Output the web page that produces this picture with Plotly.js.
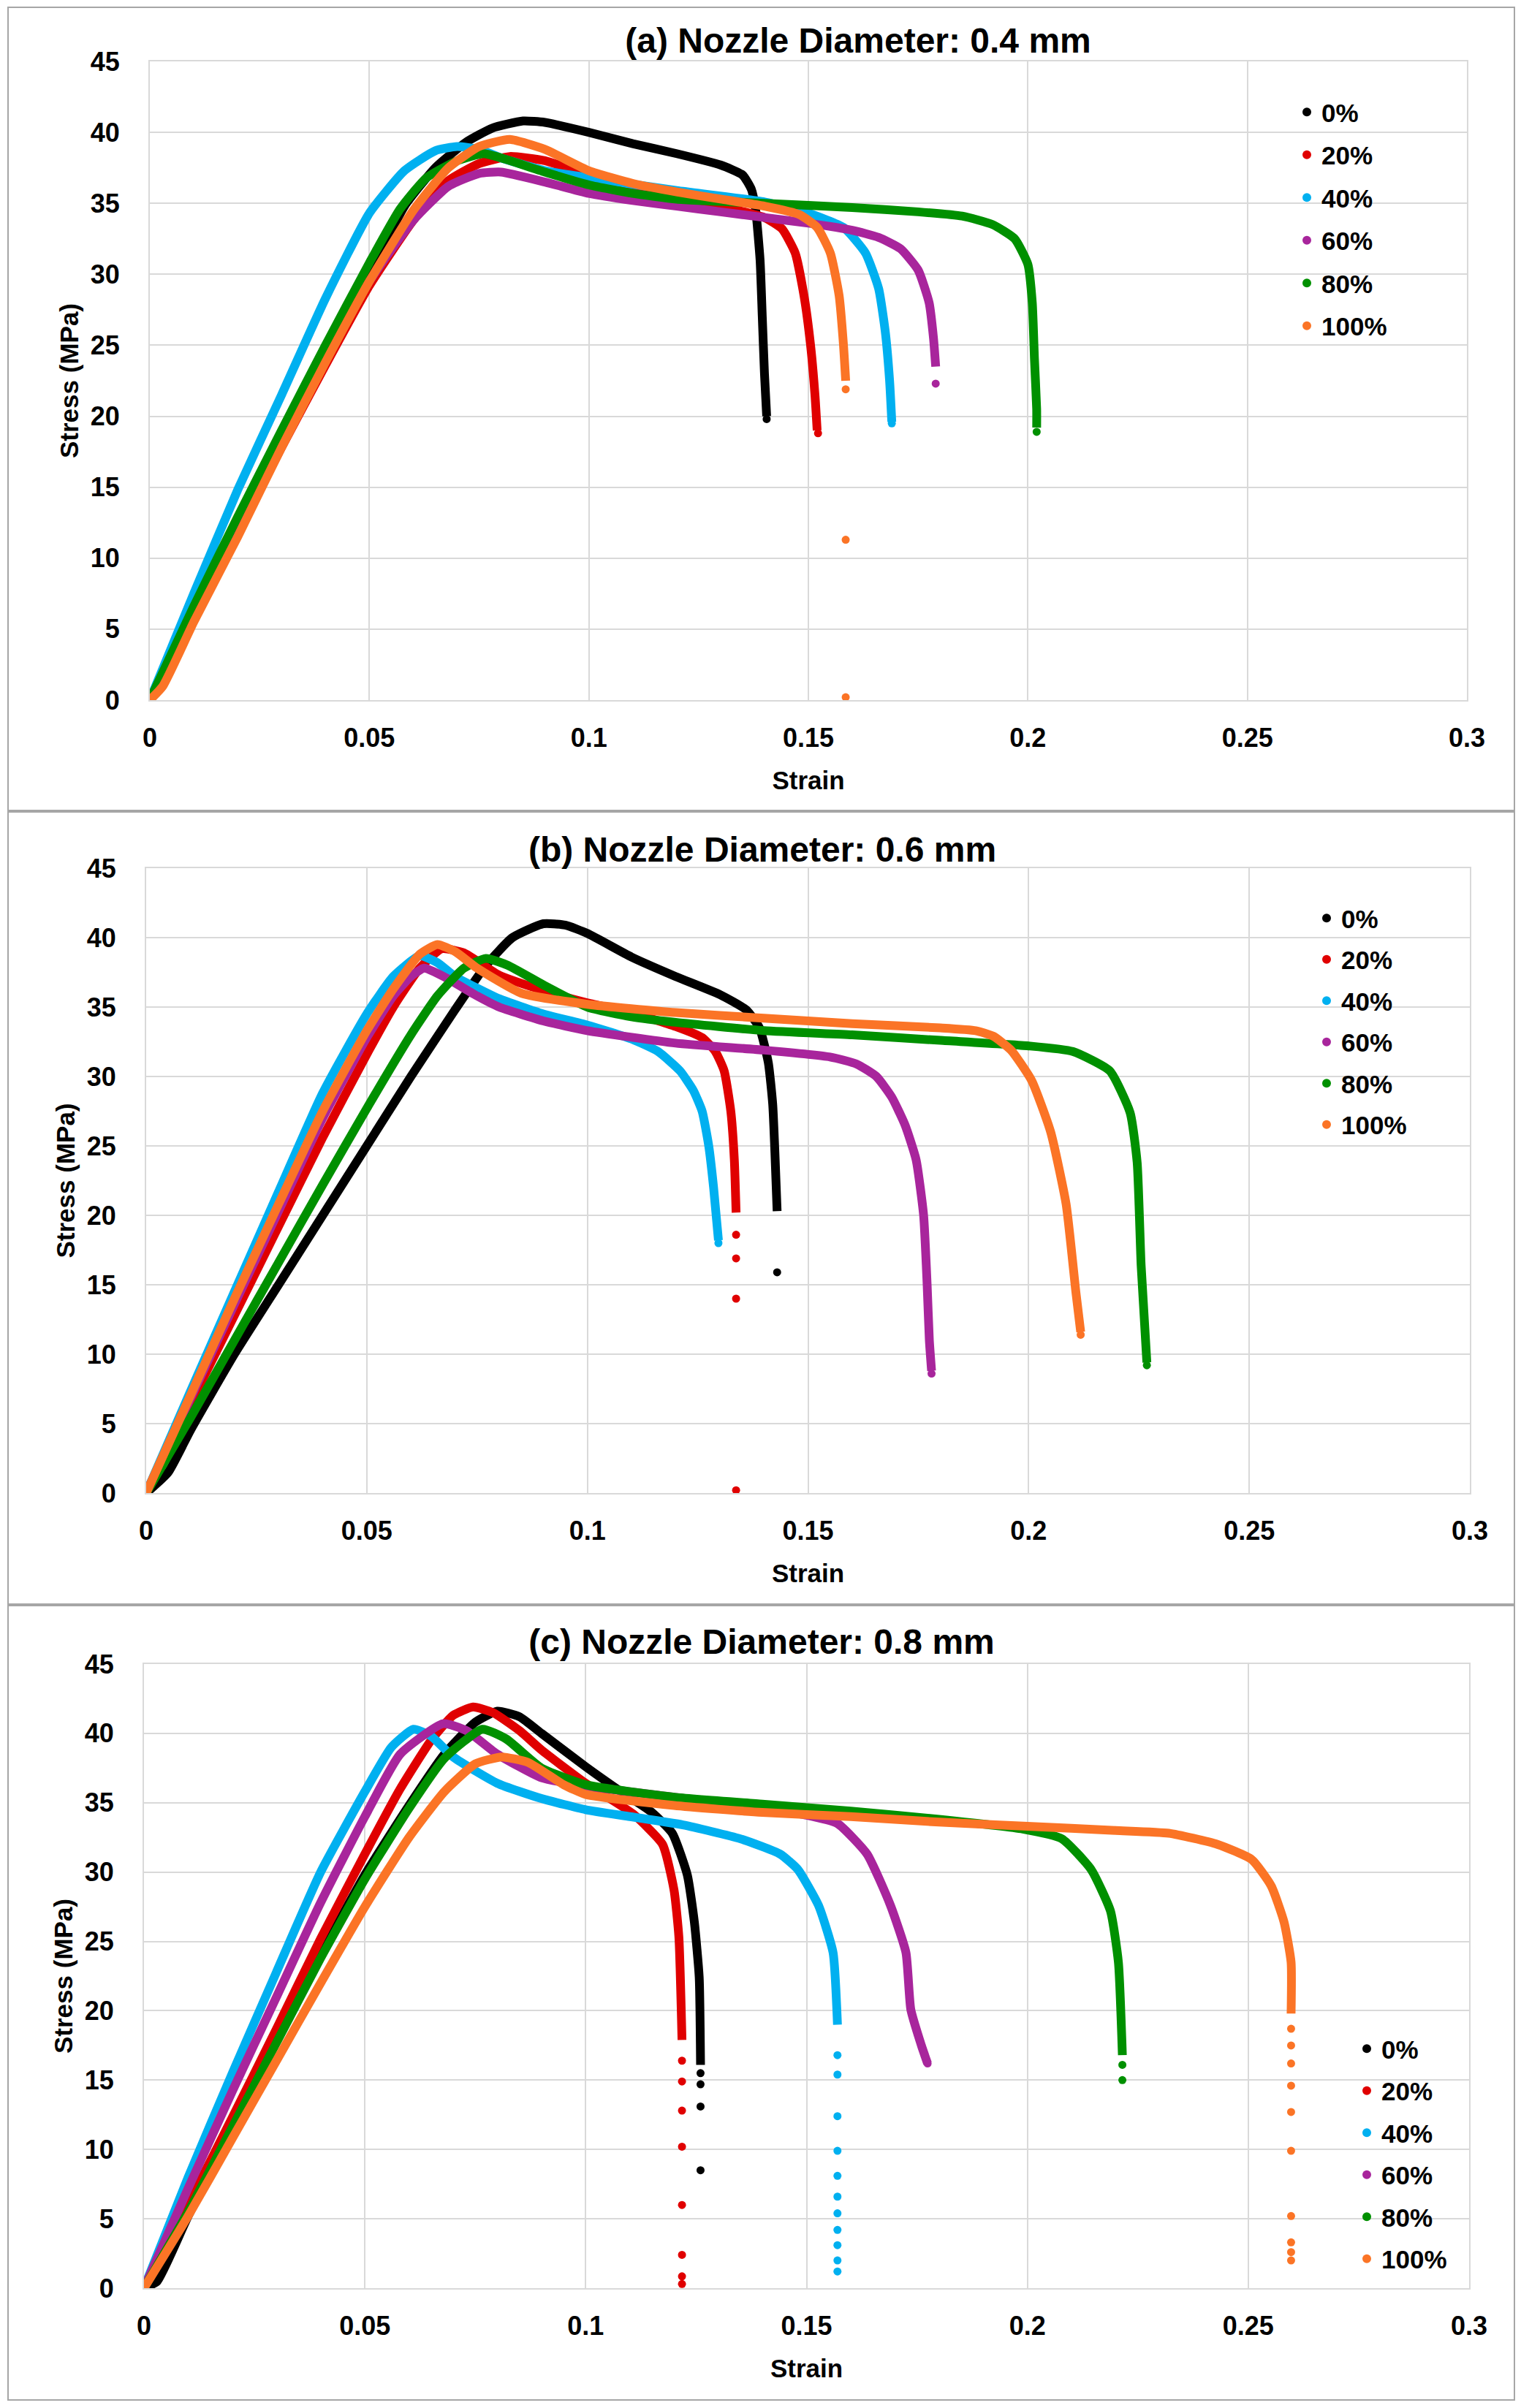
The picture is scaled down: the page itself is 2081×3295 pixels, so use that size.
<!DOCTYPE html>
<html>
<head>
<meta charset="utf-8">
<script src="https://cdn.plot.ly/plotly-3.0.1.min.js"></script>
<style>
html,body{margin:0;padding:0;background:#ffffff;}
.panel{position:absolute;left:0;width:2081px;}
</style>
</head>
<body>
<div id="pa" class="panel" style="top:0px;height:1110px"></div>
<div id="pb" class="panel" style="top:1110px;height:1086px"></div>
<div id="pc" class="panel" style="top:2196px;height:1099px"></div>
<script>
// ---------------- DATA ----------------
const seriesNames = ['0%', '20%', '40%', '60%', '80%', '100%'];
const xTickVals = [0, 0.05, 0.1, 0.15, 0.2, 0.25, 0.3];
const xTickText = ['0', '0.05', '0.1', '0.15', '0.2', '0.25', '0.3'];
const yTickVals = [0, 5, 10, 15, 20, 25, 30, 35, 40, 45];
const panelTitles = ['(a) Nozzle Diameter: 0.4 mm', '(b) Nozzle Diameter: 0.6 mm', '(c) Nozzle Diameter: 0.8 mm'];

// Panel (a) 0.4 mm : [strain, stress MPa]
const a_0 = [[0,0],[0.01,6.5],[0.02,12.5],[0.03,18.5],[0.04,24.3],[0.05,30],[0.058,34.8],[0.065,37.5],[0.072,39.3],[0.078,40.3],[0.085,40.8],[0.09,40.7],[0.1,40.0],[0.11,39.2],[0.12,38.5],[0.13,37.7],[0.135,37.0],[0.137,36.0],[0.138,34.5],[0.139,31],[0.1395,27],[0.140,23],[0.1405,20]];
const a_0_tail = [[0.1405,19.8]];
const a_20 = [[0,0],[0.01,5.8],[0.02,11.8],[0.03,17.8],[0.04,23.6],[0.05,29.2],[0.06,33.8],[0.068,36.6],[0.075,37.8],[0.082,38.3],[0.09,38.0],[0.1,37.0],[0.11,36.2],[0.12,35.5],[0.13,34.8],[0.14,34.0],[0.144,33.2],[0.147,31.5],[0.149,28.5],[0.1505,25],[0.1515,21.5],[0.152,19]];
const a_20_tail = [[0.1522,18.8]];
const a_40 = [[0,0],[0.01,7.5],[0.02,14.8],[0.03,21.5],[0.04,28.3],[0.05,34.3],[0.058,37.3],[0.065,38.7],[0.07,39.0],[0.075,38.8],[0.08,38.2],[0.09,37.3],[0.1,36.8],[0.12,35.9],[0.14,35.1],[0.15,34.3],[0.158,33.3],[0.163,31.5],[0.166,29],[0.1675,26],[0.1685,22.5],[0.169,19.6]];
const a_40_tail = [[0.169,19.5]];
const a_60 = [[0,0],[0.01,5.8],[0.02,11.8],[0.03,18],[0.04,24],[0.05,29.5],[0.06,33.8],[0.068,36.2],[0.075,37.1],[0.08,37.2],[0.09,36.5],[0.1,35.7],[0.11,35.2],[0.12,34.8],[0.13,34.4],[0.14,34.0],[0.15,33.6],[0.16,33.1],[0.166,32.6],[0.171,31.8],[0.175,30.3],[0.1775,28],[0.1785,25.5],[0.179,23.5]];
const a_60_tail = [[0.179,22.3]];
const a_80 = [[0,0],[0.01,6.6],[0.02,12.9],[0.03,19.0],[0.04,25.0],[0.05,30.8],[0.057,34.6],[0.063,36.8],[0.07,38.0],[0.076,38.5],[0.08,38.2],[0.09,37.2],[0.1,36.3],[0.11,35.7],[0.12,35.3],[0.14,35.0],[0.16,34.7],[0.175,34.4],[0.185,34.1],[0.192,33.5],[0.197,32.5],[0.2,30.7],[0.201,28],[0.2015,24],[0.202,20.5],[0.202,19.2]];
const a_80_tail = [[0.202,18.9]];
const a_100 = [[0,0],[0.003,1],[0.01,5.5],[0.02,11.5],[0.03,17.8],[0.04,23.8],[0.05,29.5],[0.06,34.5],[0.068,37.5],[0.075,39.0],[0.082,39.5],[0.09,38.8],[0.1,37.3],[0.11,36.4],[0.12,35.8],[0.13,35.3],[0.14,34.8],[0.148,34.2],[0.152,33.3],[0.155,31.5],[0.157,28.5],[0.158,25],[0.1585,22.5]];
const a_100_tail = [[0.1585,21.9],[0.1585,11.3],[0.1585,0.2]];

// Panel (b) 0.6 mm
const b_0 = [[0,0],[0.005,1.5],[0.01,4.5],[0.02,10],[0.03,15],[0.04,20],[0.05,25],[0.06,30],[0.07,34.8],[0.077,38],[0.083,40],[0.09,41],[0.095,40.9],[0.1,40.3],[0.11,38.6],[0.12,37.2],[0.13,35.9],[0.136,34.8],[0.139,33.5],[0.141,31],[0.142,28],[0.1425,24.5],[0.143,20.3]];
const b_0_tail = [[0.143,15.9]];
const b_20 = [[0,0],[0.01,6.4],[0.02,12.8],[0.03,19.2],[0.04,25.6],[0.05,31.6],[0.056,35],[0.062,37.8],[0.067,39.2],[0.072,38.9],[0.08,37.3],[0.09,36.2],[0.1,35.3],[0.11,34.6],[0.12,33.6],[0.126,32.8],[0.129,31.8],[0.131,30.4],[0.1325,27.5],[0.1333,24],[0.1337,20.2]];
const b_20_tail = [[0.1337,18.6],[0.1337,16.9],[0.1337,14.0],[0.1337,0.2]];
const b_40 = [[0,0],[0.01,7.3],[0.02,14.5],[0.03,21.7],[0.04,28.8],[0.05,34.5],[0.056,37.2],[0.062,38.7],[0.066,38.2],[0.07,37.2],[0.08,35.6],[0.09,34.5],[0.1,33.7],[0.11,32.7],[0.116,31.8],[0.121,30.4],[0.124,29],[0.126,27.5],[0.1275,25],[0.1286,22],[0.1297,18.2]];
const b_40_tail = [[0.1297,18.0]];
const b_60 = [[0,0],[0.01,6.8],[0.02,13.6],[0.03,20.3],[0.04,27],[0.05,32.8],[0.056,35.8],[0.06,37.2],[0.063,37.8],[0.068,37.1],[0.075,35.8],[0.08,35.0],[0.09,34.0],[0.1,33.3],[0.12,32.4],[0.14,31.9],[0.155,31.4],[0.161,30.9],[0.1655,30.0],[0.169,28.5],[0.172,26.5],[0.1745,24],[0.1762,20],[0.177,15],[0.1775,11],[0.178,8.8]];
const b_60_tail = [[0.178,8.6]];
const b_80 = [[0,0],[0.01,5.4],[0.02,11],[0.03,16.6],[0.04,22.2],[0.05,27.7],[0.06,33],[0.066,35.8],[0.072,37.8],[0.077,38.5],[0.082,38.0],[0.09,36.6],[0.1,35.0],[0.11,34.3],[0.12,33.9],[0.14,33.3],[0.16,33.0],[0.18,32.6],[0.2,32.2],[0.21,31.8],[0.2184,30.4],[0.223,27.4],[0.2246,23.8],[0.2255,16.4],[0.2268,9.4]];
const b_80_tail = [[0.2268,9.2]];
const b_100 = [[0,0],[0.01,7],[0.02,14],[0.03,20.8],[0.04,27.5],[0.05,33.3],[0.056,36.3],[0.062,38.8],[0.066,39.5],[0.07,39.0],[0.075,37.8],[0.085,36.0],[0.1,35.2],[0.12,34.6],[0.14,34.2],[0.16,33.8],[0.18,33.5],[0.188,33.3],[0.192,32.9],[0.196,31.9],[0.2007,29.7],[0.205,26],[0.2085,20.8],[0.2107,14.5],[0.2118,11.6]];
const b_100_tail = [[0.2118,11.4]];

// Panel (c) 0.8 mm
const c_0 = [[0,0],[0.003,0.5],[0.01,5.2],[0.02,11.5],[0.03,17.8],[0.04,24],[0.05,29.8],[0.06,34.8],[0.068,38.5],[0.075,40.8],[0.08,41.6],[0.085,41.2],[0.09,40.0],[0.1,37.6],[0.108,35.8],[0.115,34.3],[0.1196,32.8],[0.123,29.8],[0.1246,26.4],[0.1257,22.4],[0.126,16.1]];
const c_0_tail = [[0.126,15.5],[0.126,14.7],[0.126,13.1],[0.126,8.5]];
const c_20 = [[0,0],[0.01,6],[0.02,12.3],[0.03,18.7],[0.04,25.2],[0.05,31.3],[0.058,36],[0.065,39.5],[0.07,41.3],[0.0745,41.9],[0.079,41.5],[0.085,40.2],[0.09,38.8],[0.1,36.4],[0.1107,34.2],[0.1174,32],[0.12,28.7],[0.1211,25.3],[0.1218,17.9]];
const c_20_tail = [[0.1218,16.4],[0.1218,14.9],[0.1218,12.8],[0.1218,10.2],[0.1218,6.0],[0.1218,2.4],[0.1218,0.85],[0.1218,0.3]];
const c_40 = [[0,0],[0.01,8],[0.02,15.5],[0.03,22.8],[0.04,30],[0.05,35.8],[0.056,39],[0.061,40.3],[0.065,39.8],[0.07,38.3],[0.08,36.4],[0.09,35.3],[0.1,34.5],[0.11,34.0],[0.122,33.4],[0.135,32.4],[0.144,31.3],[0.148,30.2],[0.1527,27.6],[0.156,24.2],[0.157,19]];
const c_40_tail = [[0.157,16.8],[0.157,15.4],[0.157,12.4],[0.157,9.9],[0.157,8.1],[0.157,6.6],[0.157,5.4],[0.157,4.2],[0.157,3.1],[0.157,2.0],[0.157,1.2]];
const c_60 = [[0,0],[0.01,7.2],[0.02,14.2],[0.03,21],[0.04,27.8],[0.05,34],[0.058,38.5],[0.0677,40.7],[0.073,40.2],[0.08,38.5],[0.09,36.8],[0.1,36.2],[0.12,35.4],[0.14,34.6],[0.15,34.1],[0.157,33.5],[0.1637,31.3],[0.169,27.6],[0.1725,24.2],[0.1736,20.1],[0.176,17.5],[0.1774,16.2]];
const c_60_tail = [[0.1774,16.2]];
const c_80 = [[0,0],[0.01,5.5],[0.02,11.6],[0.03,17.7],[0.04,23.8],[0.05,29.5],[0.06,34.6],[0.068,38.2],[0.0766,40.3],[0.082,39.6],[0.09,37.5],[0.1,36.3],[0.12,35.4],[0.14,34.9],[0.16,34.4],[0.18,33.8],[0.199,33.1],[0.2078,32.4],[0.2144,30.2],[0.2188,27.2],[0.2206,23.5],[0.2215,16.8]];
const c_80_tail = [[0.2215,16.1],[0.2215,15.0]];
const c_100 = [[0,0],[0.01,5.2],[0.02,10.8],[0.03,16.4],[0.04,22],[0.05,27.5],[0.06,32.5],[0.068,35.8],[0.075,37.8],[0.081,38.3],[0.087,37.9],[0.095,36.3],[0.1,35.6],[0.12,34.8],[0.14,34.3],[0.16,34.0],[0.18,33.6],[0.2,33.3],[0.22,33.0],[0.232,32.8],[0.243,32.0],[0.2508,30.9],[0.2552,29.0],[0.2581,26.4],[0.2597,23.5],[0.2597,19.8]];
const c_100_tail = [[0.2597,18.7],[0.2597,17.5],[0.2597,16.2],[0.2597,14.6],[0.2597,12.7],[0.2597,9.9],[0.2597,5.2],[0.2597,3.3],[0.2597,2.6],[0.2597,2.0]];

const panelCurves = [[a_0, a_20, a_40, a_60, a_80, a_100], [b_0, b_20, b_40, b_60, b_80, b_100], [c_0, c_20, c_40, c_60, c_80, c_100]];
const panelTails = [[a_0_tail, a_20_tail, a_40_tail, a_60_tail, a_80_tail, a_100_tail], [b_0_tail, b_20_tail, b_40_tail, b_60_tail, b_80_tail, b_100_tail], [c_0_tail, c_20_tail, c_40_tail, c_60_tail, c_80_tail, c_100_tail]];

// ---------------- STYLE / GEOMETRY ----------------
const seriesColors = ['#000000', '#e00000', '#00b0f0', '#a8259c', '#009000', '#fb7426'];
const FONT = 'Liberation Sans, Arial, sans-serif';
const PAGE_W = 2081;
// all values are absolute page pixels
const geom = [
  {div: 'pa', top: 0,    height: 1110, pl: 205, pr: 2007, pt: 84,   pb: 958,  ft: 10,   fb: 1109, tx: 1174, ty: 55,   lx: 1768, ly: 124, gap: 10},
  {div: 'pb', top: 1110, height: 1086, pl: 200, pr: 2011, pt: 1188, pb: 2043, ft: 1111, fb: 2195, tx: 1043, ty: 1162, lx: 1795, ly: 1227, gap: 8},
  {div: 'pc', top: 2196, height: 1099, pl: 197, pr: 2010, pt: 2277, pb: 3131, ft: 2197, fb: 3284, tx: 1042, ty: 2246, lx: 1850, ly: 2774, gap: 9}
];
const FRAME_L = 11, FRAME_R = 2072;

function xy(arr) { return {x: arr.map(p => p[0]), y: arr.map(p => p[1])}; }

geom.forEach((g, pi) => {
  const traces = [];
  panelCurves[pi].forEach((curve, si) => {
    const d = xy(curve);
    traces.push({x: d.x, y: d.y, type: 'scatter', mode: 'lines',
      line: {color: seriesColors[si], width: 12, shape: 'spline', smoothing: 0.5}, showlegend: false,
      legendgroup: 'g' + si, hoverinfo: 'skip'});
  });
  panelTails[pi].forEach((tail, si) => {
    const d = xy(tail);
    traces.push({x: d.x, y: d.y, type: 'scatter', mode: 'markers', name: seriesNames[si],
      marker: {color: seriesColors[si], size: 11}, legendgroup: 'g' + si});
  });
  const plotW = g.pr - g.pl, plotH = g.pb - g.pt;
  const axisBase = {showgrid: true, gridcolor: '#d9d9d9', gridwidth: 2, zeroline: false,
    showline: true, mirror: true, linecolor: '#d9d9d9', linewidth: 2,
    ticks: 'outside', tickcolor: 'rgba(0,0,0,0)', automargin: false,
    tickfont: {family: FONT, size: 36, weight: 700, color: '#000'}, fixedrange: true};
  const layout = {
    width: PAGE_W, height: g.height,
    margin: {l: g.pl, r: PAGE_W - g.pr, t: g.pt - g.top, b: g.top + g.height - g.pb, pad: 0},
    paper_bgcolor: '#ffffff', plot_bgcolor: '#ffffff',
    font: {family: FONT, color: '#000'},
    title: {text: panelTitles[pi], xref: 'container', yref: 'container',
      x: g.tx / PAGE_W, y: 1 - (g.ty - g.top) / g.height, xanchor: 'center', yanchor: 'middle',
      font: {family: FONT, size: 48, weight: 700, color: '#000'}},
    xaxis: Object.assign({}, axisBase, {range: [0, 0.3], tickvals: xTickVals, ticktext: xTickText, ticklen: 19,
      title: {text: 'Strain', standoff: 26, font: {family: FONT, size: 35, weight: 700, color: '#000'}}}),
    yaxis: Object.assign({}, axisBase, {range: [0, 45], tickvals: yTickVals, ticklen: 32,
      title: {text: 'Stress (MPa)', standoff: 6, font: {family: FONT, size: 35, weight: 700, color: '#000'}}}),
    legend: {x: (g.lx - g.pl) / plotW, y: (g.pb - g.ly) / plotH, xanchor: 'left', yanchor: 'top',
      font: {family: FONT, size: 35, weight: 700, color: '#000'}, itemsizing: 'constant', itemwidth: 30,
      traceorder: 'grouped', tracegroupgap: g.gap, bgcolor: 'rgba(0,0,0,0)', borderwidth: 0},
    shapes: [{type: 'rect', xref: 'paper', yref: 'paper',
      x0: (FRAME_L - g.pl) / plotW, x1: (FRAME_R - g.pl) / plotW,
      y0: (g.pb - g.fb) / plotH, y1: (g.pb - g.ft) / plotH,
      line: {color: '#a6a6a6', width: 2}, fillcolor: 'rgba(0,0,0,0)', layer: 'below'}],
    showlegend: true, hovermode: false
  };
  Plotly.newPlot(g.div, traces, layout, {displayModeBar: false, staticPlot: true});
});
</script>
</body>
</html>
